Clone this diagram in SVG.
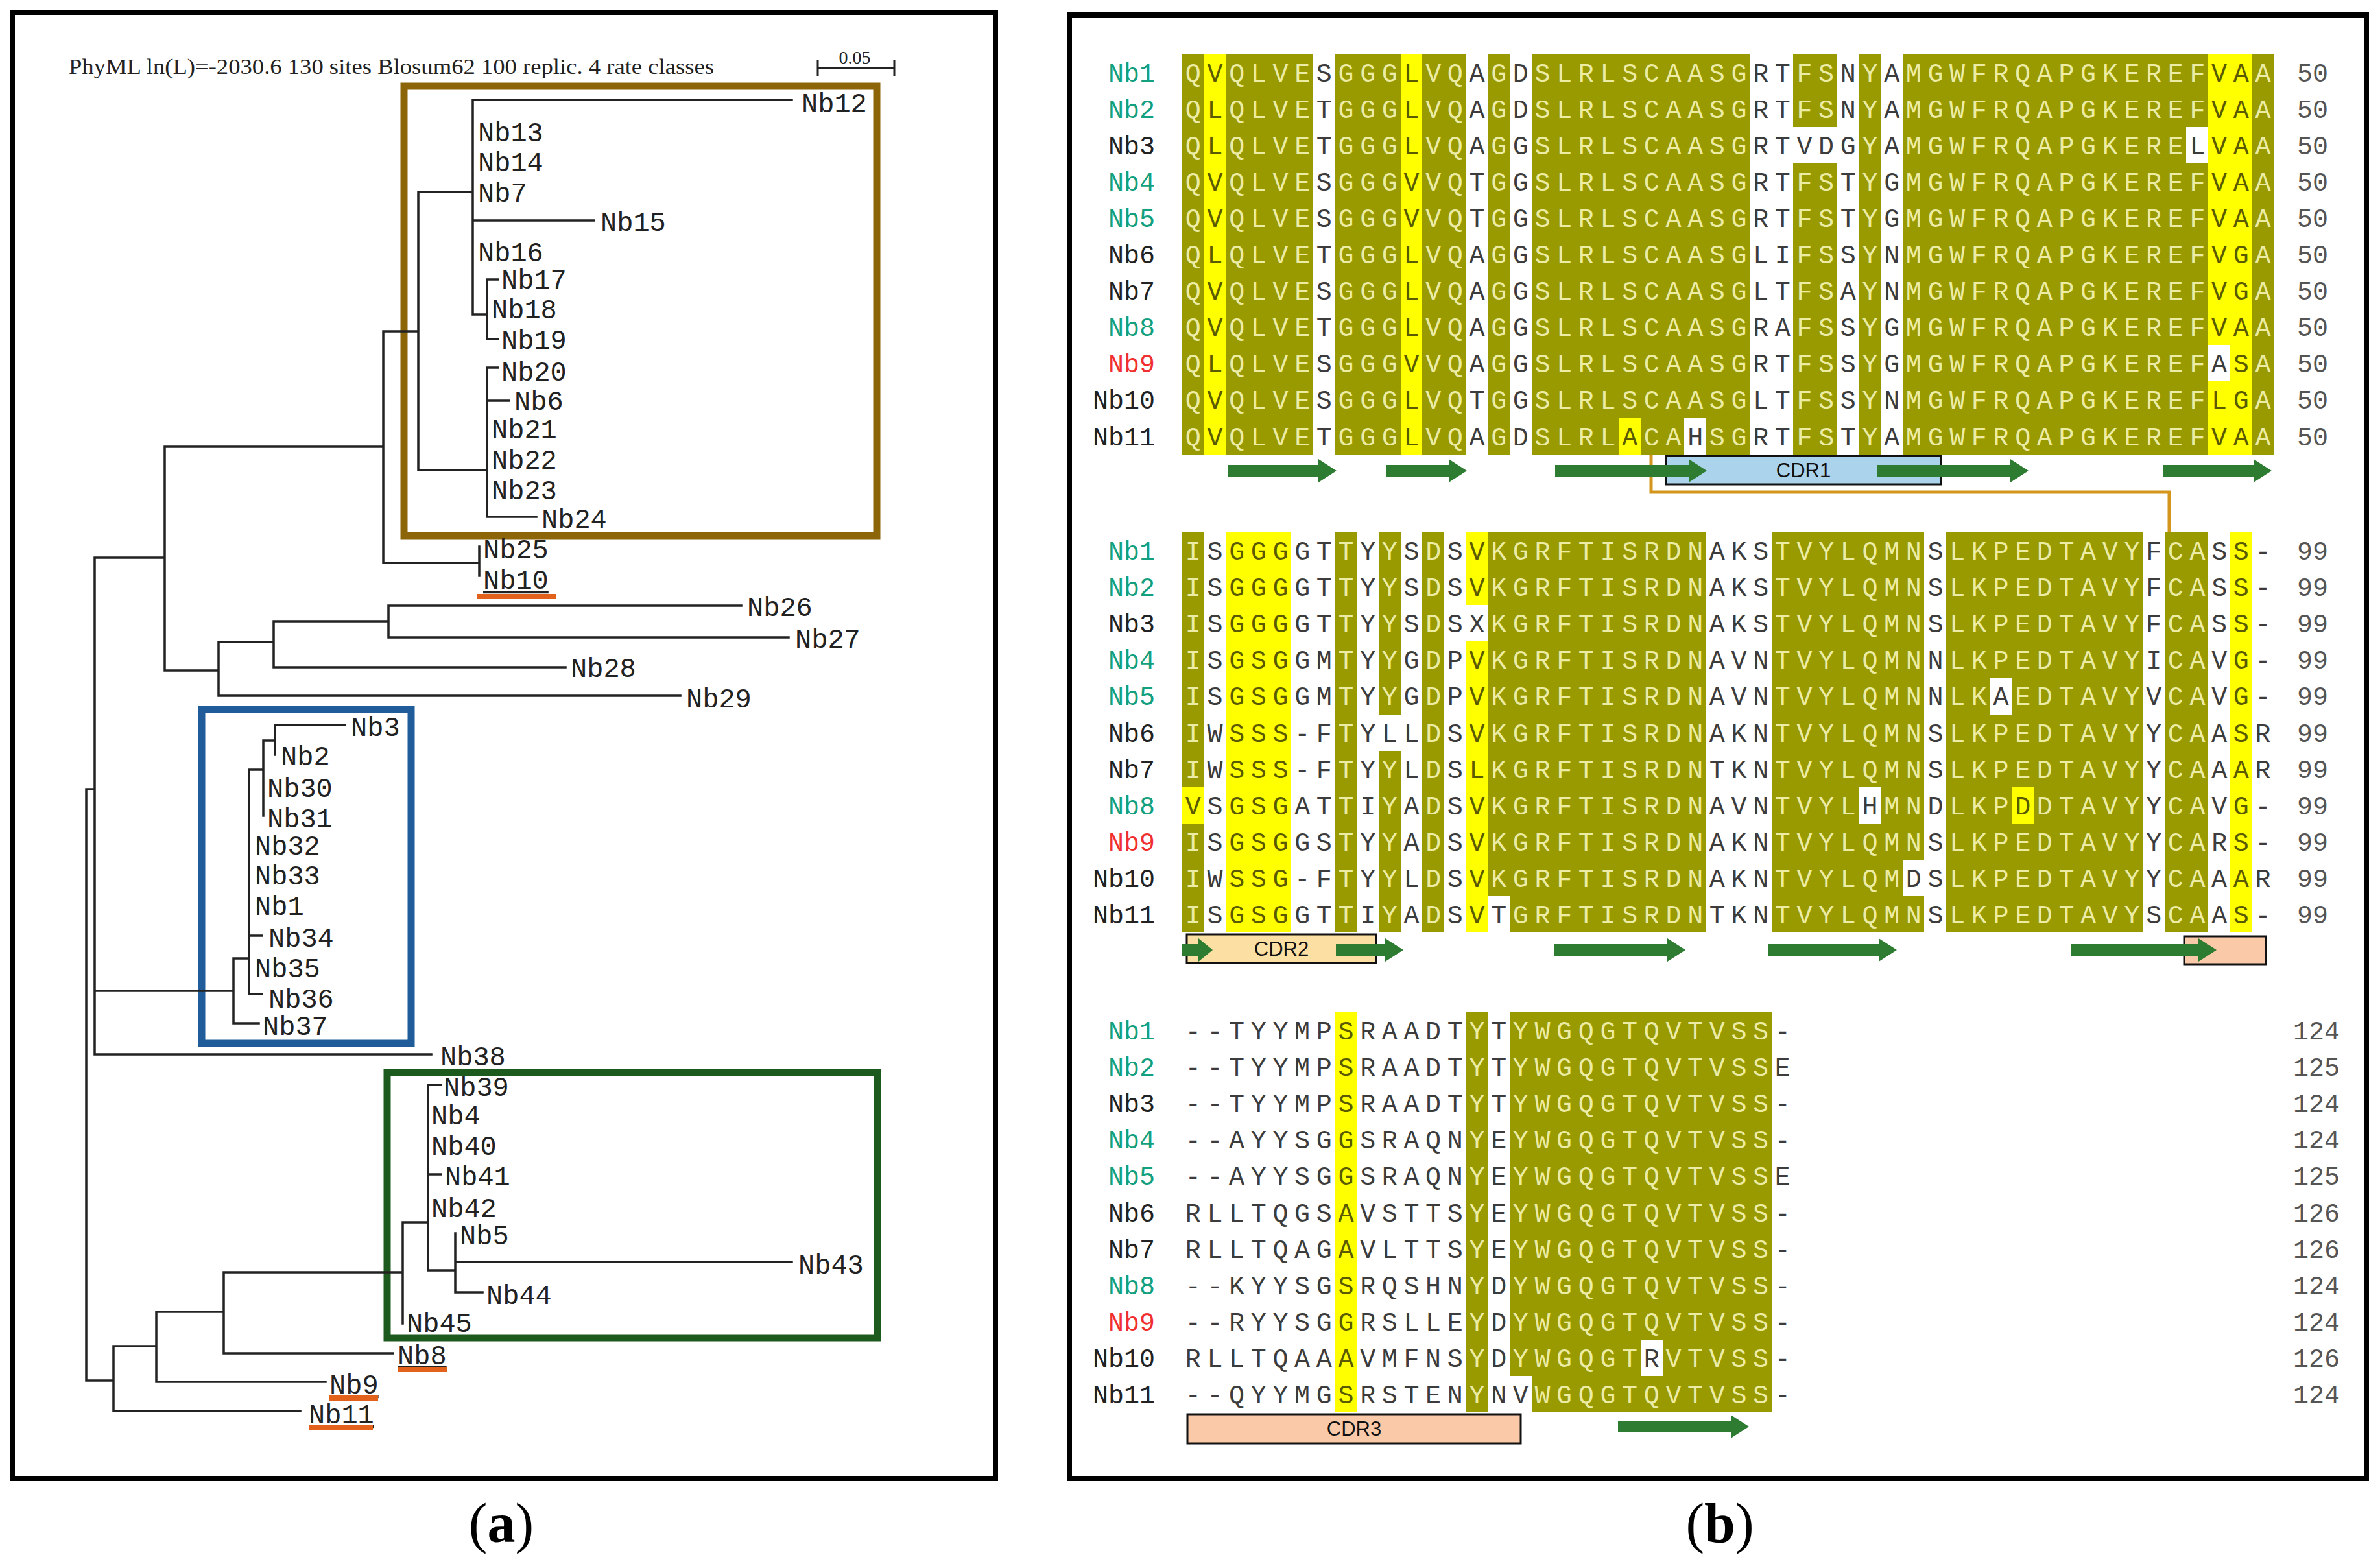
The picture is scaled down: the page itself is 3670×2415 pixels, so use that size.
<svg xmlns="http://www.w3.org/2000/svg" width="3670" height="2415" viewBox="0 0 3670 2415">
<style>
.pb{fill:none;stroke:#000;stroke-width:8}
.seq{font-family:"Liberation Mono",monospace;font-size:40px;letter-spacing:9.66px;fill:#3c3c3c}
.o{fill:#ececa4}
.y{fill:#5a5a00}
.nm{font-family:"Liberation Mono",monospace;font-size:40px;text-anchor:end}
.teal{fill:#12a080}.red{fill:#f03030}.blk{fill:#222}
.num{font-family:"Liberation Mono",monospace;font-size:40px;fill:#555}
.bO{fill:#999900}.bY{fill:#ffff00}.bW{fill:#fff}
.arr{fill:#2e7b32}
.cdr{stroke:#111;stroke-width:3}
.cdrt{font-family:"Liberation Sans",Arial,sans-serif;font-size:31px;text-anchor:middle;fill:#111}
.tr{fill:none;stroke:#222;stroke-width:3.5;stroke-linecap:square}
.lf{font-family:"Liberation Mono",monospace;font-size:42px;fill:#222}
.ul{fill:#e2621b}
.box{fill:none;stroke-width:11}
.cap{font-family:"Liberation Serif","Times New Roman",serif;font-size:86px;text-anchor:middle;fill:#000}
</style>
<rect width="3670" height="2415" fill="#fff"/>
<!-- Panel frames -->
<rect class="pb" x="19" y="19" width="1516" height="2261"/>
<rect class="pb" x="1649" y="23" width="2000" height="2257"/>
<text class="cap" x="773" y="2378">(<tspan font-weight="bold">a</tspan>)</text>
<text class="cap" x="2652" y="2378">(<tspan font-weight="bold">b</tspan>)</text>

<!-- ===== Panel (a): tree ===== -->
<text x="106" y="114" font-family="Liberation Serif,'Times New Roman',serif" font-size="33" fill="#222" textLength="995" lengthAdjust="spacingAndGlyphs">PhyML ln(L)=-2030.6 130 sites Blosum62 100 replic. 4 rate classes</text>
<g id="scalebar">
<path d="M1261 105H1379M1261 92V117M1379 92V117" fill="none" stroke="#222" stroke-width="3"/>
<text x="1318" y="98" font-family="Liberation Serif,'Times New Roman',serif" font-size="28" fill="#222" text-anchor="middle">0.05</text>
</g>
<g id="clade-boxes">
<rect id="box-brown" class="box" x="623" y="133" width="729" height="693" stroke="#8b6508"/>
<rect id="box-blue" class="box" x="311" y="1094" width="323" height="515" stroke="#1f5c99"/>
<rect id="box-green" class="box" x="597" y="1654" width="756" height="409" stroke="#1d5a1d"/>
</g>
<g id="tree-connectors">
<path class="tr" d="M729 154H1221M729 154V485M729 340H916M729 485H751M751 431V523M751 431H768M751 523H768
M645 296H729M645 296V725M645 725H751M751 567V797M751 567H768M751 618H785M751 797H827
M591 511H645M591 511V868M591 868H739M739 843V888
M254 689H591M254 689V1034M254 1034H337
M337 990V1073M337 990H422M337 1073H1049M422 958V1029M422 958H599M422 1029H872M599 934V983M599 934H1143M599 983H1216
M146 860H254M146 860V1626M146 1528H360M146 1626H665
M360 1478V1578M360 1478H384M360 1578H399M384 1187V1533M384 1443H404M384 1533H404M384 1187H406M406 1142V1258M406 1142H424M424 1118V1164M424 1118H532
M133 1217H146M133 1217V2129M133 2129H175M175 2076V2176M175 2076H241M175 2176H463M241 2023V2131M241 2023H345M241 2131H502M345 1962V2087M345 1962H621M345 2087H606M621 1885V2041M621 1885H660M660 1673V1959M660 1673H680M660 1811H680M660 1959H702M702 1902V1993M702 1946H1221M702 1993H744"/>
</g>
<g id="tree-leaves" class="lf">
<g id="leaf-Nb12"><text x="1236" y="173">Nb12</text></g>
<g id="leaf-Nb13"><text x="737" y="218">Nb13</text></g>
<g id="leaf-Nb14"><text x="737" y="264">Nb14</text></g>
<g id="leaf-Nb7"><text x="737" y="311">Nb7</text></g>
<g id="leaf-Nb15"><text x="926" y="356">Nb15</text></g>
<g id="leaf-Nb16"><text x="737" y="403">Nb16</text></g>
<g id="leaf-Nb17"><text x="773" y="445">Nb17</text></g>
<g id="leaf-Nb18"><text x="758" y="491">Nb18</text></g>
<g id="leaf-Nb19"><text x="773" y="538">Nb19</text></g>
<g id="leaf-Nb20"><text x="773" y="587">Nb20</text></g>
<g id="leaf-Nb6"><text x="793" y="632">Nb6</text></g>
<g id="leaf-Nb21"><text x="758" y="676">Nb21</text></g>
<g id="leaf-Nb22"><text x="758" y="723">Nb22</text></g>
<g id="leaf-Nb23"><text x="758" y="770">Nb23</text></g>
<g id="leaf-Nb24"><text x="835" y="814">Nb24</text></g>
<g id="leaf-Nb25"><text x="745" y="861">Nb25</text></g>
<g id="leaf-Nb10"><text x="745" y="908" text-decoration="underline">Nb10</text><rect class="ul" x="735" y="916" width="123" height="8"/></g>
<g id="leaf-Nb26"><text x="1152" y="950">Nb26</text></g>
<g id="leaf-Nb27"><text x="1226" y="999">Nb27</text></g>
<g id="leaf-Nb28"><text x="880" y="1044">Nb28</text></g>
<g id="leaf-Nb29"><text x="1058" y="1091">Nb29</text></g>
<g id="leaf-Nb3"><text x="541" y="1135">Nb3</text></g>
<g id="leaf-Nb2"><text x="433" y="1180">Nb2</text></g>
<g id="leaf-Nb30"><text x="412" y="1229">Nb30</text></g>
<g id="leaf-Nb31"><text x="412" y="1276">Nb31</text></g>
<g id="leaf-Nb32"><text x="393" y="1318">Nb32</text></g>
<g id="leaf-Nb33"><text x="393" y="1364">Nb33</text></g>
<g id="leaf-Nb1"><text x="393" y="1411">Nb1</text></g>
<g id="leaf-Nb34"><text x="414" y="1460">Nb34</text></g>
<g id="leaf-Nb35"><text x="393" y="1507">Nb35</text></g>
<g id="leaf-Nb36"><text x="414" y="1554">Nb36</text></g>
<g id="leaf-Nb37"><text x="405" y="1596">Nb37</text></g>
<g id="leaf-Nb38"><text x="679" y="1643">Nb38</text></g>
<g id="leaf-Nb39"><text x="684" y="1690">Nb39</text></g>
<g id="leaf-Nb4"><text x="665" y="1734">Nb4</text></g>
<g id="leaf-Nb40"><text x="665" y="1781">Nb40</text></g>
<g id="leaf-Nb41"><text x="686" y="1828">Nb41</text></g>
<g id="leaf-Nb42"><text x="665" y="1877">Nb42</text></g>
<g id="leaf-Nb5"><text x="709" y="1919">Nb5</text></g>
<g id="leaf-Nb43"><text x="1231" y="1964">Nb43</text></g>
<g id="leaf-Nb44"><text x="750" y="2011">Nb44</text></g>
<g id="leaf-Nb45"><text x="627" y="2054">Nb45</text></g>
<g id="leaf-Nb8"><text x="613" y="2104" text-decoration="underline">Nb8</text><rect class="ul" x="613" y="2108" width="77" height="8"/></g>
<g id="leaf-Nb9"><text x="508" y="2149" text-decoration="underline">Nb9</text><rect class="ul" x="508" y="2152" width="75" height="8"/></g>
<g id="leaf-Nb11"><text x="476" y="2195" text-decoration="underline">Nb11</text><rect class="ul" x="477" y="2197" width="98" height="8"/></g>
</g>

<!-- ===== Panel (b): alignment ===== -->
<!-- Block 1 backgrounds -->
<g id="block1-bg" transform="translate(1823 83.5) scale(33.66 56.1)" shape-rendering="crispEdges">
<rect class="bO" x="0" y="0" width="1" height="11"/><rect class="bY" x="1" y="0" width="1" height="11"/>
<rect class="bO" x="2" y="0" width="4" height="11"/><rect class="bO" x="7" y="0" width="3" height="11"/>
<rect class="bY" x="10" y="0" width="1" height="11"/><rect class="bO" x="11" y="0" width="2" height="11"/>
<rect class="bO" x="14" y="0" width="1" height="11"/><rect class="bO" x="16" y="0" width="10" height="11"/>
<rect class="bO" x="28" y="0" width="2" height="11"/><rect class="bO" x="31" y="0" width="1" height="11"/>
<rect class="bO" x="33" y="0" width="14" height="11"/><rect class="bY" x="47" y="0" width="2" height="11"/>
<rect class="bO" x="49" y="0" width="1" height="11"/>
<rect class="bW" x="28" y="2" width="2" height="1"/><rect class="bW" x="46" y="2" width="1" height="1"/>
<rect class="bW" x="47" y="8" width="1" height="1"/><rect class="bY" x="20" y="10" width="1" height="1"/>
<rect class="bW" x="23" y="10" width="1" height="1"/>
</g>
<!-- Block 2 backgrounds -->
<g id="block2-bg" transform="translate(1823 821) scale(33.66 56.1)" shape-rendering="crispEdges">
<rect class="bO" x="0" y="0" width="1" height="11"/><rect class="bY" x="2" y="0" width="3" height="11"/>
<rect class="bO" x="7" y="0" width="1" height="11"/><rect class="bO" x="9" y="0" width="1" height="11"/>
<rect class="bO" x="11" y="0" width="1" height="11"/><rect class="bY" x="13" y="0" width="1" height="11"/>
<rect class="bO" x="14" y="0" width="10" height="11"/><rect class="bO" x="27" y="0" width="7" height="11"/>
<rect class="bO" x="35" y="0" width="9" height="11"/><rect class="bO" x="45" y="0" width="2" height="11"/>
<rect class="bY" x="48" y="0" width="1" height="11"/>
<rect class="bY" x="0" y="7" width="1" height="1"/><rect class="bW" x="9" y="5" width="1" height="1"/>
<rect class="bW" x="13" y="2" width="1" height="1"/><rect class="bW" x="14" y="10" width="1" height="1"/>
<rect class="bW" x="31" y="7" width="1" height="1"/><rect class="bW" x="33" y="9" width="1" height="1"/>
<rect class="bW" x="37" y="4" width="1" height="1"/><rect class="bY" x="38" y="7" width="1" height="1"/>
</g>
<!-- Block 3 backgrounds -->
<g id="block3-bg" transform="translate(1823 1561) scale(33.66 56.1)" shape-rendering="crispEdges">
<rect class="bY" x="7" y="0" width="1" height="11"/><rect class="bO" x="13" y="0" width="1" height="11"/>
<rect class="bO" x="15" y="0" width="12" height="11"/>
<rect class="bW" x="21" y="9" width="1" height="1"/><rect class="bW" x="15" y="10" width="1" height="1"/>
</g>

<!-- Connector (orange) and annotation boxes -->
<g id="connectors">
<path d="M2546 701V759H3345V821" fill="none" stroke="#d4951c" stroke-width="5"/>
</g>
<g id="cdr-boxes">
<g id="CDR1"><rect class="cdr" x="2569" y="703" width="424" height="44" fill="#abd3ec"/><text class="cdrt" x="2781" y="736">CDR1</text></g>
<g id="CDR2"><rect class="cdr" x="1830" y="1441" width="292" height="44" fill="#fce0a3"/><text class="cdrt" x="1976" y="1474">CDR2</text></g>
<g id="CDR3a"><rect class="cdr" x="3368" y="1444" width="126" height="43" fill="#f9c9a8"/></g>
<g id="CDR3"><rect class="cdr" x="1831" y="2181" width="514" height="45" fill="#f9c9a8"/><text class="cdrt" x="2088" y="2214">CDR3</text></g>
</g>
<g id="strands" class="arr">
<path d="M1894 717H2033V708L2061 726L2033 744V735H1894Z"/>
<path d="M2137 717H2234V708L2262 726L2234 744V735H2137Z"/>
<path d="M2398 717H2604V708L2632 726L2604 744V735H2398Z"/>
<path d="M2894 717H3100V708L3128 726L3100 744V735H2894Z"/>
<path d="M3335 717H3475V708L3503 726L3475 744V735H3335Z"/>
<path d="M1822 1456H1848V1447L1870 1465L1848 1483V1474H1822Z"/>
<path d="M2060 1456H2136V1447L2164 1465L2136 1483V1474H2060Z"/>
<path d="M2396 1456H2571V1447L2599 1465L2571 1483V1474H2396Z"/>
<path d="M2727 1456H2897V1447L2925 1465L2897 1483V1474H2727Z"/>
<path d="M3194 1456H3390V1447L3418 1465L3390 1483V1474H3194Z"/>
<path d="M2495 2191H2669V2182L2697 2200L2669 2218V2209H2495Z"/>
</g>

<!-- Block 1 text -->
<g id="block1">
<g class="nm">
<text class="teal" x="1781" y="125.5">Nb1</text><text class="teal" x="1781" y="181.6">Nb2</text><text class="blk" x="1781" y="237.7">Nb3</text><text class="teal" x="1781" y="293.8">Nb4</text><text class="teal" x="1781" y="349.9">Nb5</text><text class="blk" x="1781" y="406">Nb6</text><text class="blk" x="1781" y="462.1">Nb7</text><text class="teal" x="1781" y="518.2">Nb8</text><text class="red" x="1781" y="574.3">Nb9</text><text class="blk" x="1781" y="630.4">Nb10</text><text class="blk" x="1781" y="686.5">Nb11</text>
</g>
<g class="seq">
<text x="1827.8" y="125.5"><tspan class="o">Q</tspan><tspan class="y">V</tspan><tspan class="o">QLVE</tspan>S<tspan class="o">GGG</tspan><tspan class="y">L</tspan><tspan class="o">VQ</tspan>A<tspan class="o">G</tspan>D<tspan class="o">SLRLSCAASG</tspan>RT<tspan class="o">FS</tspan>N<tspan class="o">Y</tspan>A<tspan class="o">MGWFRQAPGKEREF</tspan><tspan class="y">VA</tspan><tspan class="o">A</tspan></text>
<text x="1827.8" y="181.6"><tspan class="o">Q</tspan><tspan class="y">L</tspan><tspan class="o">QLVE</tspan>T<tspan class="o">GGG</tspan><tspan class="y">L</tspan><tspan class="o">VQ</tspan>A<tspan class="o">G</tspan>D<tspan class="o">SLRLSCAASG</tspan>RT<tspan class="o">FS</tspan>N<tspan class="o">Y</tspan>A<tspan class="o">MGWFRQAPGKEREF</tspan><tspan class="y">VA</tspan><tspan class="o">A</tspan></text>
<text x="1827.8" y="237.7"><tspan class="o">Q</tspan><tspan class="y">L</tspan><tspan class="o">QLVE</tspan>T<tspan class="o">GGG</tspan><tspan class="y">L</tspan><tspan class="o">VQ</tspan>A<tspan class="o">G</tspan>G<tspan class="o">SLRLSCAASG</tspan>RTVDG<tspan class="o">Y</tspan>A<tspan class="o">MGWFRQAPGKERE</tspan>L<tspan class="y">VA</tspan><tspan class="o">A</tspan></text>
<text x="1827.8" y="293.8"><tspan class="o">Q</tspan><tspan class="y">V</tspan><tspan class="o">QLVE</tspan>S<tspan class="o">GGG</tspan><tspan class="y">V</tspan><tspan class="o">VQ</tspan>T<tspan class="o">G</tspan>G<tspan class="o">SLRLSCAASG</tspan>RT<tspan class="o">FS</tspan>T<tspan class="o">Y</tspan>G<tspan class="o">MGWFRQAPGKEREF</tspan><tspan class="y">VA</tspan><tspan class="o">A</tspan></text>
<text x="1827.8" y="349.9"><tspan class="o">Q</tspan><tspan class="y">V</tspan><tspan class="o">QLVE</tspan>S<tspan class="o">GGG</tspan><tspan class="y">V</tspan><tspan class="o">VQ</tspan>T<tspan class="o">G</tspan>G<tspan class="o">SLRLSCAASG</tspan>RT<tspan class="o">FS</tspan>T<tspan class="o">Y</tspan>G<tspan class="o">MGWFRQAPGKEREF</tspan><tspan class="y">VA</tspan><tspan class="o">A</tspan></text>
<text x="1827.8" y="406"><tspan class="o">Q</tspan><tspan class="y">L</tspan><tspan class="o">QLVE</tspan>T<tspan class="o">GGG</tspan><tspan class="y">L</tspan><tspan class="o">VQ</tspan>A<tspan class="o">G</tspan>G<tspan class="o">SLRLSCAASG</tspan>LI<tspan class="o">FS</tspan>S<tspan class="o">Y</tspan>N<tspan class="o">MGWFRQAPGKEREF</tspan><tspan class="y">VG</tspan><tspan class="o">A</tspan></text>
<text x="1827.8" y="462.1"><tspan class="o">Q</tspan><tspan class="y">V</tspan><tspan class="o">QLVE</tspan>S<tspan class="o">GGG</tspan><tspan class="y">L</tspan><tspan class="o">VQ</tspan>A<tspan class="o">G</tspan>G<tspan class="o">SLRLSCAASG</tspan>LT<tspan class="o">FS</tspan>A<tspan class="o">Y</tspan>N<tspan class="o">MGWFRQAPGKEREF</tspan><tspan class="y">VG</tspan><tspan class="o">A</tspan></text>
<text x="1827.8" y="518.2"><tspan class="o">Q</tspan><tspan class="y">V</tspan><tspan class="o">QLVE</tspan>T<tspan class="o">GGG</tspan><tspan class="y">L</tspan><tspan class="o">VQ</tspan>A<tspan class="o">G</tspan>G<tspan class="o">SLRLSCAASG</tspan>RA<tspan class="o">FS</tspan>S<tspan class="o">Y</tspan>G<tspan class="o">MGWFRQAPGKEREF</tspan><tspan class="y">VA</tspan><tspan class="o">A</tspan></text>
<text x="1827.8" y="574.3"><tspan class="o">Q</tspan><tspan class="y">L</tspan><tspan class="o">QLVE</tspan>S<tspan class="o">GGG</tspan><tspan class="y">V</tspan><tspan class="o">VQ</tspan>A<tspan class="o">G</tspan>G<tspan class="o">SLRLSCAASG</tspan>RT<tspan class="o">FS</tspan>S<tspan class="o">Y</tspan>G<tspan class="o">MGWFRQAPGKEREF</tspan>A<tspan class="y">S</tspan><tspan class="o">A</tspan></text>
<text x="1827.8" y="630.4"><tspan class="o">Q</tspan><tspan class="y">V</tspan><tspan class="o">QLVE</tspan>S<tspan class="o">GGG</tspan><tspan class="y">L</tspan><tspan class="o">VQ</tspan>T<tspan class="o">G</tspan>G<tspan class="o">SLRLSCAASG</tspan>LT<tspan class="o">FS</tspan>S<tspan class="o">Y</tspan>N<tspan class="o">MGWFRQAPGKEREF</tspan><tspan class="y">LG</tspan><tspan class="o">A</tspan></text>
<text x="1827.8" y="686.5"><tspan class="o">Q</tspan><tspan class="y">V</tspan><tspan class="o">QLVE</tspan>T<tspan class="o">GGG</tspan><tspan class="y">L</tspan><tspan class="o">VQ</tspan>A<tspan class="o">G</tspan>D<tspan class="o">SLRL</tspan><tspan class="y">A</tspan><tspan class="o">CA</tspan>H<tspan class="o">SG</tspan>RT<tspan class="o">FS</tspan>T<tspan class="o">Y</tspan>A<tspan class="o">MGWFRQAPGKEREF</tspan><tspan class="y">VA</tspan><tspan class="o">A</tspan></text>
</g>
<g class="num">
<text x="3542" y="125.5">50</text><text x="3542" y="181.6">50</text><text x="3542" y="237.7">50</text><text x="3542" y="293.8">50</text><text x="3542" y="349.9">50</text><text x="3542" y="406">50</text><text x="3542" y="462.1">50</text><text x="3542" y="518.2">50</text><text x="3542" y="574.3">50</text><text x="3542" y="630.4">50</text><text x="3542" y="686.5">50</text>
</g>
</g>

<!-- Block 2 text -->
<g id="block2">
<g class="nm">
<text class="teal" x="1781" y="863">Nb1</text><text class="teal" x="1781" y="919.1">Nb2</text><text class="blk" x="1781" y="975.2">Nb3</text><text class="teal" x="1781" y="1031.3">Nb4</text><text class="teal" x="1781" y="1087.4">Nb5</text><text class="blk" x="1781" y="1143.5">Nb6</text><text class="blk" x="1781" y="1199.6">Nb7</text><text class="teal" x="1781" y="1255.7">Nb8</text><text class="red" x="1781" y="1311.8">Nb9</text><text class="blk" x="1781" y="1367.9">Nb10</text><text class="blk" x="1781" y="1424">Nb11</text>
</g>
<g class="seq">
<text x="1827.8" y="863"><tspan class="o">I</tspan>S<tspan class="y">GGG</tspan>GT<tspan class="o">T</tspan>Y<tspan class="o">Y</tspan>S<tspan class="o">D</tspan>S<tspan class="y">V</tspan><tspan class="o">KGRFTISRDN</tspan>AKS<tspan class="o">TVYLQMN</tspan>S<tspan class="o">LKPEDTAVY</tspan>F<tspan class="o">CA</tspan>S<tspan class="y">S</tspan>-</text>
<text x="1827.8" y="919.1"><tspan class="o">I</tspan>S<tspan class="y">GGG</tspan>GT<tspan class="o">T</tspan>Y<tspan class="o">Y</tspan>S<tspan class="o">D</tspan>S<tspan class="y">V</tspan><tspan class="o">KGRFTISRDN</tspan>AKS<tspan class="o">TVYLQMN</tspan>S<tspan class="o">LKPEDTAVY</tspan>F<tspan class="o">CA</tspan>S<tspan class="y">S</tspan>-</text>
<text x="1827.8" y="975.2"><tspan class="o">I</tspan>S<tspan class="y">GGG</tspan>GT<tspan class="o">T</tspan>Y<tspan class="o">Y</tspan>S<tspan class="o">D</tspan>SX<tspan class="o">KGRFTISRDN</tspan>AKS<tspan class="o">TVYLQMN</tspan>S<tspan class="o">LKPEDTAVY</tspan>F<tspan class="o">CA</tspan>S<tspan class="y">S</tspan>-</text>
<text x="1827.8" y="1031.3"><tspan class="o">I</tspan>S<tspan class="y">GSG</tspan>GM<tspan class="o">T</tspan>Y<tspan class="o">Y</tspan>G<tspan class="o">D</tspan>P<tspan class="y">V</tspan><tspan class="o">KGRFTISRDN</tspan>AVN<tspan class="o">TVYLQMN</tspan>N<tspan class="o">LKPEDTAVY</tspan>I<tspan class="o">CA</tspan>V<tspan class="y">G</tspan>-</text>
<text x="1827.8" y="1087.4"><tspan class="o">I</tspan>S<tspan class="y">GSG</tspan>GM<tspan class="o">T</tspan>Y<tspan class="o">Y</tspan>G<tspan class="o">D</tspan>P<tspan class="y">V</tspan><tspan class="o">KGRFTISRDN</tspan>AVN<tspan class="o">TVYLQMN</tspan>N<tspan class="o">LK</tspan>A<tspan class="o">EDTAVY</tspan>V<tspan class="o">CA</tspan>V<tspan class="y">G</tspan>-</text>
<text x="1827.8" y="1143.5"><tspan class="o">I</tspan>W<tspan class="y">SSS</tspan>-F<tspan class="o">T</tspan>YLL<tspan class="o">D</tspan>S<tspan class="y">V</tspan><tspan class="o">KGRFTISRDN</tspan>AKN<tspan class="o">TVYLQMN</tspan>S<tspan class="o">LKPEDTAVY</tspan>Y<tspan class="o">CA</tspan>A<tspan class="y">S</tspan>R</text>
<text x="1827.8" y="1199.6"><tspan class="o">I</tspan>W<tspan class="y">SSS</tspan>-F<tspan class="o">T</tspan>Y<tspan class="o">Y</tspan>L<tspan class="o">D</tspan>S<tspan class="y">L</tspan><tspan class="o">KGRFTISRDN</tspan>TKN<tspan class="o">TVYLQMN</tspan>S<tspan class="o">LKPEDTAVY</tspan>Y<tspan class="o">CA</tspan>A<tspan class="y">A</tspan>R</text>
<text x="1827.8" y="1255.7"><tspan class="y">V</tspan>S<tspan class="y">GSG</tspan>AT<tspan class="o">T</tspan>I<tspan class="o">Y</tspan>A<tspan class="o">D</tspan>S<tspan class="y">V</tspan><tspan class="o">KGRFTISRDN</tspan>AVN<tspan class="o">TVYL</tspan>H<tspan class="o">MN</tspan>D<tspan class="o">LKP</tspan><tspan class="y">D</tspan><tspan class="o">DTAVY</tspan>Y<tspan class="o">CA</tspan>V<tspan class="y">G</tspan>-</text>
<text x="1827.8" y="1311.8"><tspan class="o">I</tspan>S<tspan class="y">GSG</tspan>GS<tspan class="o">T</tspan>Y<tspan class="o">Y</tspan>A<tspan class="o">D</tspan>S<tspan class="y">V</tspan><tspan class="o">KGRFTISRDN</tspan>AKN<tspan class="o">TVYLQMN</tspan>S<tspan class="o">LKPEDTAVY</tspan>Y<tspan class="o">CA</tspan>R<tspan class="y">S</tspan>-</text>
<text x="1827.8" y="1367.9"><tspan class="o">I</tspan>W<tspan class="y">SSG</tspan>-F<tspan class="o">T</tspan>Y<tspan class="o">Y</tspan>L<tspan class="o">D</tspan>S<tspan class="y">V</tspan><tspan class="o">KGRFTISRDN</tspan>AKN<tspan class="o">TVYLQM</tspan>DS<tspan class="o">LKPEDTAVY</tspan>Y<tspan class="o">CA</tspan>A<tspan class="y">A</tspan>R</text>
<text x="1827.8" y="1424"><tspan class="o">I</tspan>S<tspan class="y">GSG</tspan>GT<tspan class="o">T</tspan>I<tspan class="o">Y</tspan>A<tspan class="o">D</tspan>S<tspan class="y">V</tspan>T<tspan class="o">GRFTISRDN</tspan>TKN<tspan class="o">TVYLQMN</tspan>S<tspan class="o">LKPEDTAVY</tspan>S<tspan class="o">CA</tspan>A<tspan class="y">S</tspan>-</text>
</g>
<g class="num">
<text x="3542" y="863">99</text><text x="3542" y="919.1">99</text><text x="3542" y="975.2">99</text><text x="3542" y="1031.3">99</text><text x="3542" y="1087.4">99</text><text x="3542" y="1143.5">99</text><text x="3542" y="1199.6">99</text><text x="3542" y="1255.7">99</text><text x="3542" y="1311.8">99</text><text x="3542" y="1367.9">99</text><text x="3542" y="1424">99</text>
</g>
</g>

<!-- Block 3 text -->
<g id="block3">
<g class="nm">
<text class="teal" x="1781" y="1603">Nb1</text><text class="teal" x="1781" y="1659.1">Nb2</text><text class="blk" x="1781" y="1715.2">Nb3</text><text class="teal" x="1781" y="1771.3">Nb4</text><text class="teal" x="1781" y="1827.4">Nb5</text><text class="blk" x="1781" y="1883.5">Nb6</text><text class="blk" x="1781" y="1939.6">Nb7</text><text class="teal" x="1781" y="1995.7">Nb8</text><text class="red" x="1781" y="2051.8">Nb9</text><text class="blk" x="1781" y="2107.9">Nb10</text><text class="blk" x="1781" y="2164">Nb11</text>
</g>
<g class="seq">
<text x="1827.8" y="1603">--TYYMP<tspan class="y">S</tspan>RAADT<tspan class="o">Y</tspan>T<tspan class="o">YWGQGTQVTVSS</tspan>-</text>
<text x="1827.8" y="1659.1">--TYYMP<tspan class="y">S</tspan>RAADT<tspan class="o">Y</tspan>T<tspan class="o">YWGQGTQVTVSS</tspan>E</text>
<text x="1827.8" y="1715.2">--TYYMP<tspan class="y">S</tspan>RAADT<tspan class="o">Y</tspan>T<tspan class="o">YWGQGTQVTVSS</tspan>-</text>
<text x="1827.8" y="1771.3">--AYYSG<tspan class="y">G</tspan>SRAQN<tspan class="o">Y</tspan>E<tspan class="o">YWGQGTQVTVSS</tspan>-</text>
<text x="1827.8" y="1827.4">--AYYSG<tspan class="y">G</tspan>SRAQN<tspan class="o">Y</tspan>E<tspan class="o">YWGQGTQVTVSS</tspan>E</text>
<text x="1827.8" y="1883.5">RLLTQGS<tspan class="y">A</tspan>VSTTS<tspan class="o">Y</tspan>E<tspan class="o">YWGQGTQVTVSS</tspan>-</text>
<text x="1827.8" y="1939.6">RLLTQAG<tspan class="y">A</tspan>VLTTS<tspan class="o">Y</tspan>E<tspan class="o">YWGQGTQVTVSS</tspan>-</text>
<text x="1827.8" y="1995.7">--KYYSG<tspan class="y">S</tspan>RQSHN<tspan class="o">Y</tspan>D<tspan class="o">YWGQGTQVTVSS</tspan>-</text>
<text x="1827.8" y="2051.8">--RYYSG<tspan class="y">G</tspan>RSLLE<tspan class="o">Y</tspan>D<tspan class="o">YWGQGTQVTVSS</tspan>-</text>
<text x="1827.8" y="2107.9">RLLTQAA<tspan class="y">A</tspan>VMFNS<tspan class="o">Y</tspan>D<tspan class="o">YWGQGT</tspan>R<tspan class="o">VTVSS</tspan>-</text>
<text x="1827.8" y="2164">--QYYMG<tspan class="y">S</tspan>RSTEN<tspan class="o">Y</tspan>NV<tspan class="o">WGQGTQVTVSS</tspan>-</text>
</g>
<g class="num">
<text x="3536" y="1603">124</text><text x="3536" y="1659.1">125</text><text x="3536" y="1715.2">124</text><text x="3536" y="1771.3">124</text><text x="3536" y="1827.4">125</text><text x="3536" y="1883.5">126</text><text x="3536" y="1939.6">126</text><text x="3536" y="1995.7">124</text><text x="3536" y="2051.8">124</text><text x="3536" y="2107.9">126</text><text x="3536" y="2164">124</text>
</g>
</g>
</svg>
